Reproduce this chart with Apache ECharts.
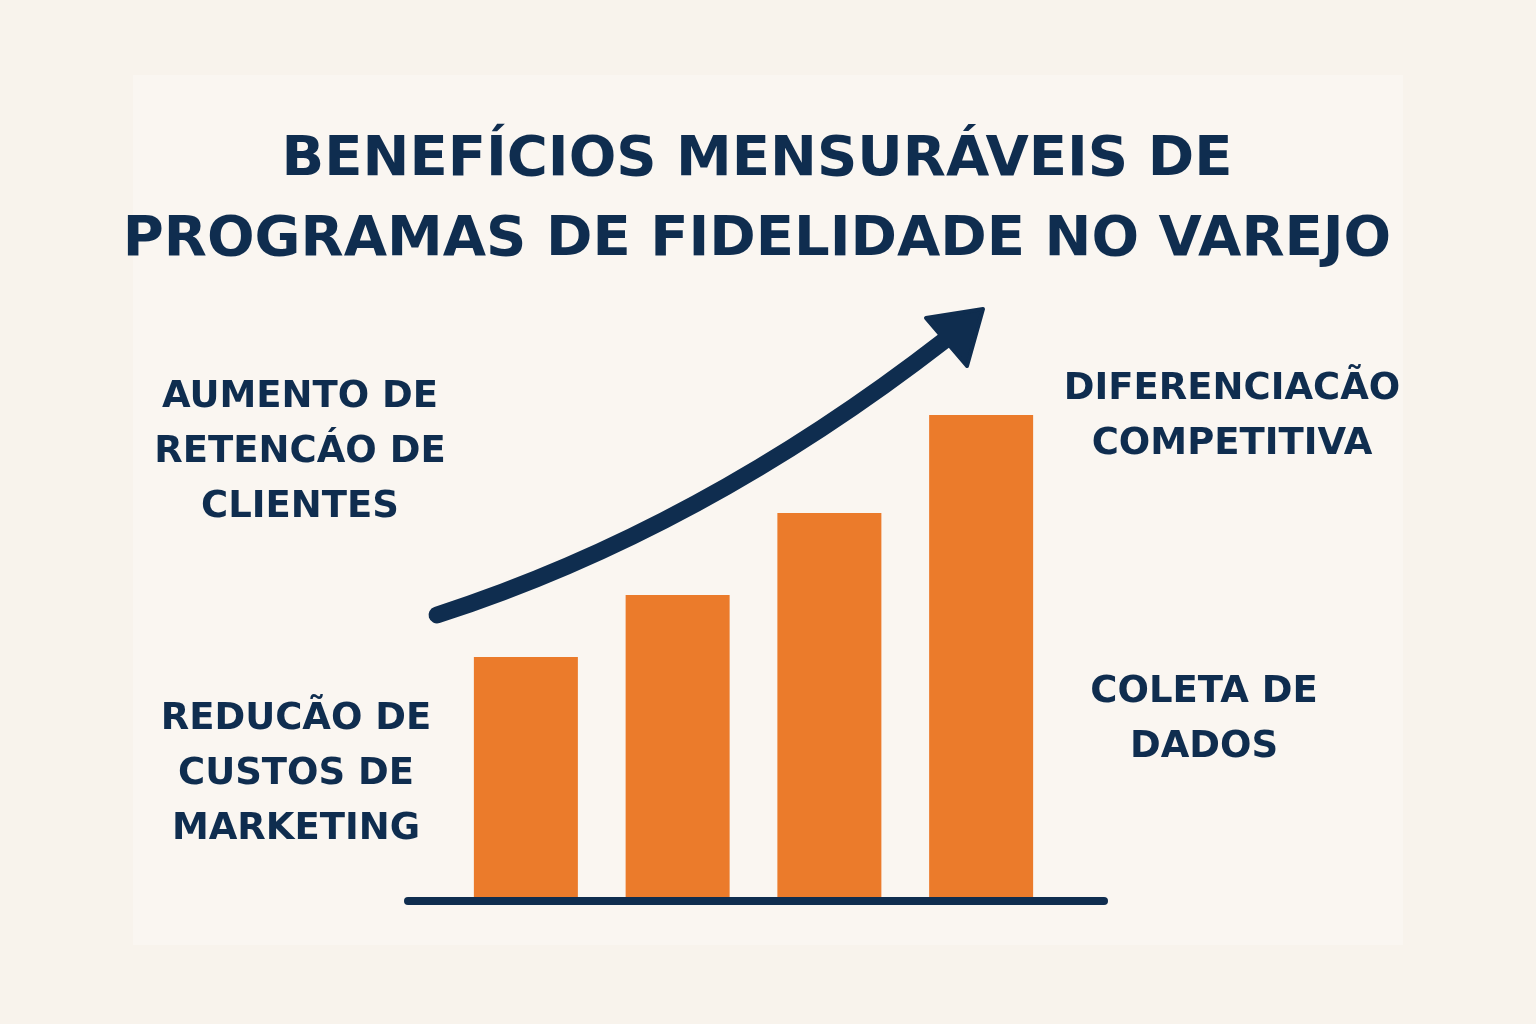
<!DOCTYPE html>
<html><head><meta charset="utf-8">
<script src="https://cdn.jsdelivr.net/npm/echarts@6/dist/echarts.min.js"></script>
<style>html,body{margin:0;background:#f8f3ec}#c{width:1536px;height:1024px}</style>
</head><body><div id="c"></div>
<script>
const categories = ['Redução de custos','Retenção','Diferenciação','Coleta de dados'];
const values = [2.41, 3.03, 3.85, 4.83];
const titleLines = ['BENEFÍCIOS MENSURÁVEIS DE','PROGRAMAS DE FIDELIDADE NO VAREJO'];
const leftTop = ['AUMENTO DE','RETENCÁO DE','CLIENTES'];
const leftBottom = ['REDUCÃO DE','CUSTOS DE','MARKETING'];
const rightTop = ['DIFERENCIACÃO','COMPETITIVA'];
const rightBottom = ['COLETA DE','DADOS'];
const navy = '#0f2d4f', orange = '#eb7b2b';
const ch = echarts.init(document.getElementById('c'));
const F = 'DejaVu Sans';
function block(lines, x, y, gap, size){
  return lines.map((t,i)=>({type:'text',x:x,y:y+i*gap,style:{text:t,fill:navy,font:`bold ${size}px "${F}"`,textAlign:'center',textVerticalAlign:'middle'}}));
}
ch.setOption({
  backgroundColor:'#f8f3ec',
  grid:{left:450,right:1536-1057,top:398,bottom:126},
  xAxis:{type:'category',data:categories,axisLine:{show:false},axisTick:{show:false},axisLabel:{show:false}},
  yAxis:{type:'value',min:0,max:5,show:false,splitLine:{show:false}},
  series:[{type:'bar',data:values,barWidth:104,itemStyle:{color:orange}}],
  graphic:[
    {type:'rect',shape:{x:133,y:75,width:1270,height:870},style:{fill:'#faf6f1'},z:-10},
    {type:'line',shape:{x1:408,y1:901,x2:1104,y2:901},style:{stroke:navy,lineWidth:8,lineCap:'round'},z:10},
    {type:'bezierCurve',shape:{x1:437,y1:615,cpx1:700,cpy1:530,x2:945,y2:340},style:{stroke:navy,lineWidth:17,fill:null,lineCap:'round'},z:10},
    {type:'polygon',shape:{points:[[926,318],[983,309],[967,366]]},style:{fill:navy,stroke:navy,lineWidth:4,lineJoin:'round'},z:10},
    ...block(titleLines,757,160,80,56),
    ...block(leftTop,300,397,55,37),
    ...block(leftBottom,296,719,55,37),
    ...block(rightTop,1232,389,55,37),
    ...block(rightBottom,1204,692,55,37)
  ]
});
</script></body></html>
